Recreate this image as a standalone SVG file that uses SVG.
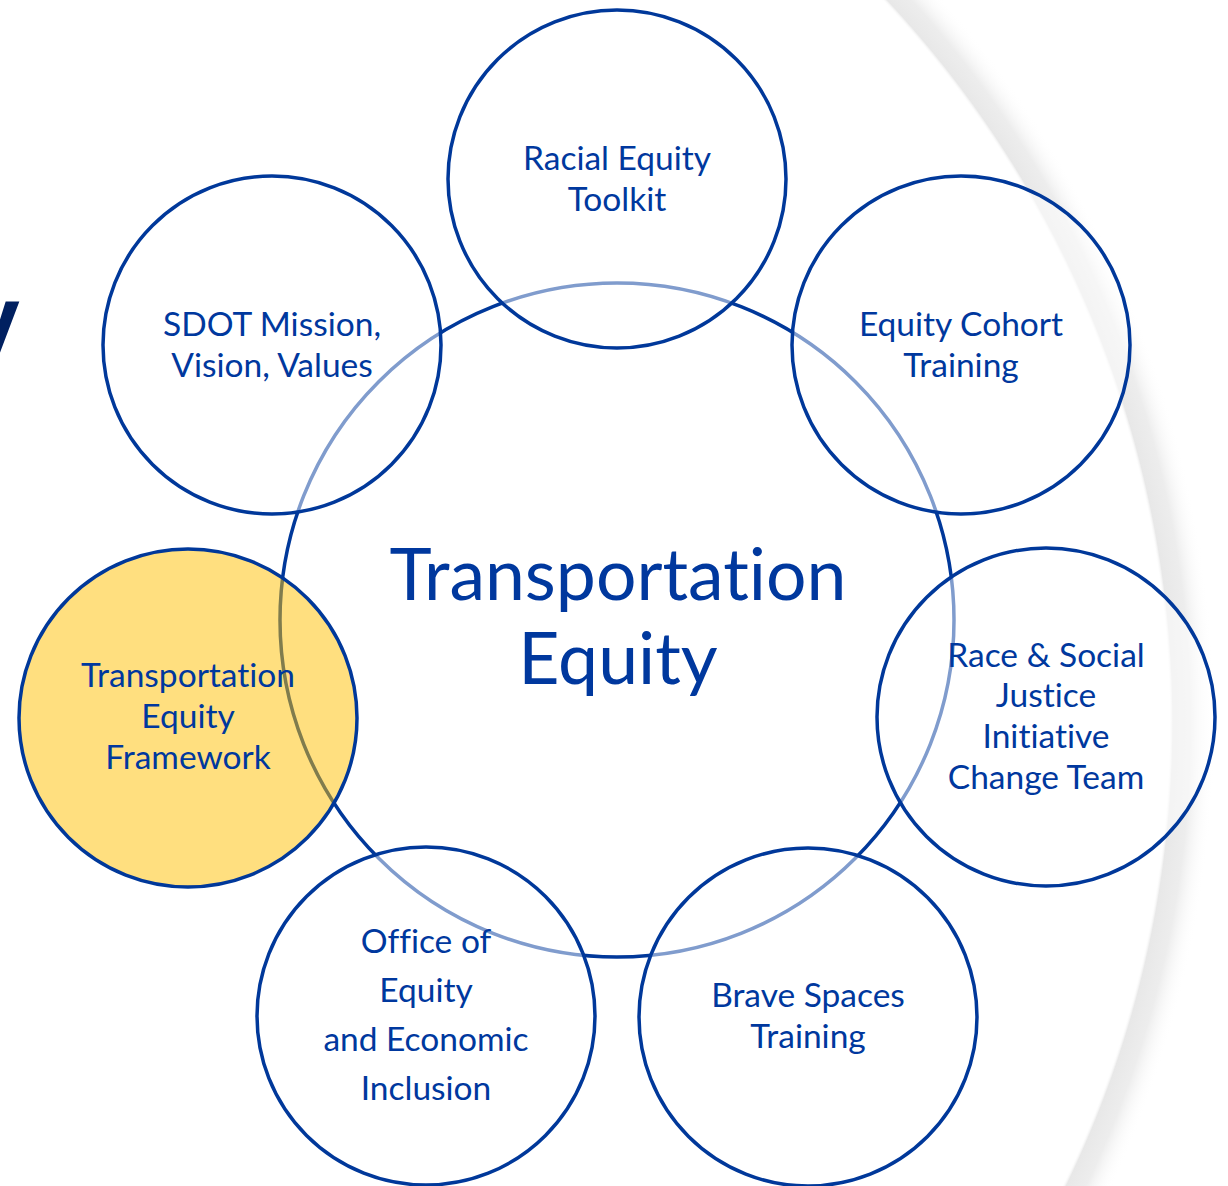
<svg xmlns="http://www.w3.org/2000/svg" width="1228" height="1186" viewBox="0 0 1228 1186">
  <style>
    .node { stroke: #00389A; stroke-width: 3.5; }
    .plain { fill: #FFFFFF; fill-opacity: 0.5; }
    .hl { fill: #FFC000; fill-opacity: 0.5; }
    text { font-variant-ligatures: none; font-feature-settings: "liga" 0, "dlig" 0; }
    .lbl { font-family: Lato, "Open Sans", "Liberation Sans", sans-serif; font-size: 33.5px; fill: #00389E; text-anchor: middle; }
    .big { font-family: Lato, "Open Sans", "Liberation Sans", sans-serif; font-size: 71.5px; fill: #00389E; text-anchor: middle; }
  </style>
  <defs>
    <radialGradient id="band" gradientUnits="userSpaceOnUse" cx="115" cy="723" r="1110">
      <stop offset="0" stop-color="#FFFFFF" stop-opacity="0"/>
      <stop offset="0.9495" stop-color="#FFFFFF" stop-opacity="0"/>
      <stop offset="0.9530" stop-color="#E8E8E8" stop-opacity="1"/>
      <stop offset="0.9690" stop-color="#EDEDED" stop-opacity="1"/>
      <stop offset="0.9910" stop-color="#FFFFFF" stop-opacity="0"/>
      <stop offset="1" stop-color="#FFFFFF" stop-opacity="0"/>
    </radialGradient>
  </defs>

  <rect x="0" y="0" width="1228" height="1186" fill="#FFFFFF"/>
  <rect x="0" y="0" width="1228" height="1186" fill="url(#band)"/>

  <text x="-33" y="351" font-family="'Liberation Sans', Arial, sans-serif" font-weight="bold" font-size="95" fill="#002060">y</text>

  <g id="center">
    <circle cx="617" cy="620" r="337" fill="none" stroke="#00389A" stroke-width="3.5"/>
    <text class="big" x="618" y="600">Transportation</text>
    <text class="big" x="618" y="684">Equity</text>
  </g>

  <g id="connectors"></g>

  <g id="racial-equity-toolkit">
    <circle class="node plain" cx="617" cy="179" r="169"/>
    <text class="lbl" x="617" y="170">Racial Equity</text>
    <text class="lbl" x="617" y="211">Toolkit</text>
  </g>

  <g id="equity-cohort-training">
    <circle class="node plain" cx="961" cy="345" r="169"/>
    <text class="lbl" x="961" y="336">Equity Cohort</text>
    <text class="lbl" x="961" y="377">Training</text>
  </g>

  <g id="race-social-justice">
    <circle class="node plain" cx="1046" cy="717" r="169"/>
    <text class="lbl" x="1046" y="667">Race &amp; Social</text>
    <text class="lbl" x="1046" y="707">Justice</text>
    <text class="lbl" x="1046" y="748">Initiative</text>
    <text class="lbl" x="1046" y="789">Change Team</text>
  </g>

  <g id="brave-spaces-training">
    <circle class="node plain" cx="808" cy="1017" r="169"/>
    <text class="lbl" x="808" y="1007">Brave Spaces</text>
    <text class="lbl" x="808" y="1048">Training</text>
  </g>

  <g id="office-of-equity">
    <circle class="node plain" cx="426" cy="1016" r="169"/>
    <text class="lbl" x="426" y="953">Office of</text>
    <text class="lbl" x="426" y="1002">Equity</text>
    <text class="lbl" x="426" y="1051">and Economic</text>
    <text class="lbl" x="426" y="1100">Inclusion</text>
  </g>

  <g id="transportation-equity-framework">
    <circle class="node hl" cx="188" cy="718" r="169"/>
    <text class="lbl" x="188" y="687">Transportation</text>
    <text class="lbl" x="188" y="728">Equity</text>
    <text class="lbl" x="188" y="769">Framework</text>
  </g>

  <g id="sdot-mission">
    <circle class="node plain" cx="272" cy="345" r="169"/>
    <text class="lbl" x="272" y="336">SDOT Mission,</text>
    <text class="lbl" x="272" y="377">Vision, Values</text>
  </g>
</svg>
